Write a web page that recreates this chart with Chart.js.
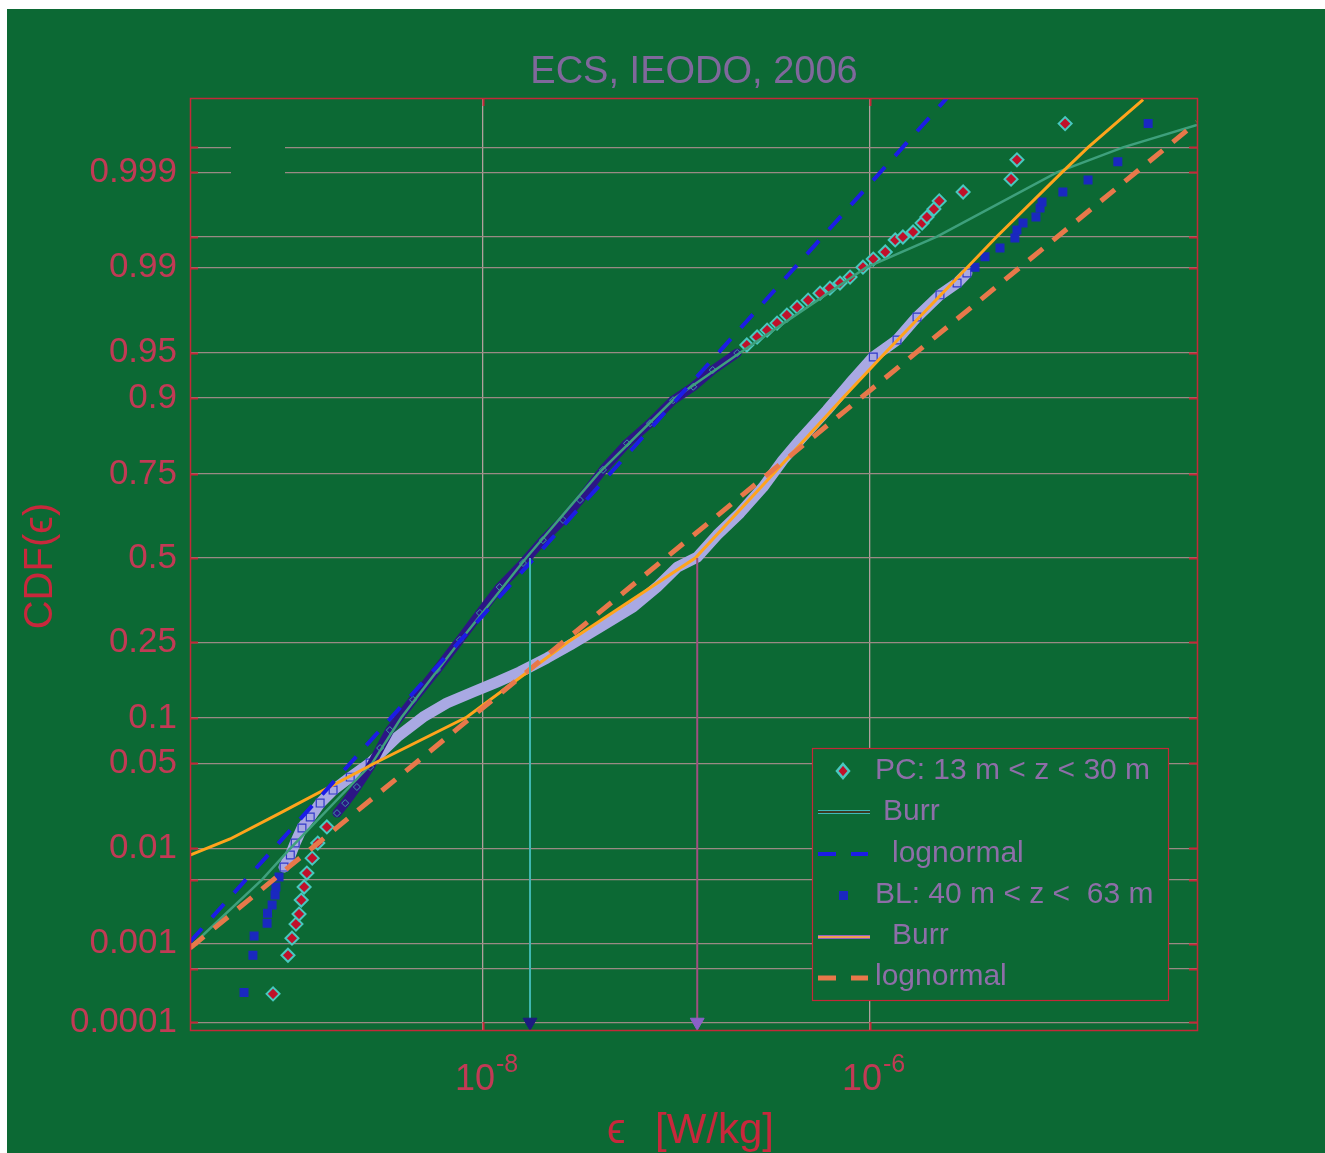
<!DOCTYPE html>
<html><head><meta charset="utf-8">
<script src="https://cdn.jsdelivr.net/npm/chart.js@4.4.1/dist/chart.umd.min.js"></script>
<style>html,body{margin:0;padding:0;background:#fff;}canvas{display:block;}</style>
</head><body>
<canvas id="c" width="1325" height="1153"></canvas>
<script>
// ---------------- data ----------------
const pcEps = [8.22e-10, 9.82e-10, 1.03e-9, 1.08e-9, 1.12e-9, 1.15e-9, 1.19e-9, 1.23e-9, 1.31e-9, 1.40e-9,
  1.56e-9, 1.76e-9, 1.94e-9, 2.23e-9, 2.61e-9, 2.94e-9, 3.30e-9, 4.35e-9, 5.78e-9, 7.60e-9,
  9.64e-9, 1.22e-8, 1.61e-8, 2.04e-8, 2.59e-8, 3.17e-8, 4.17e-8, 5.55e-8, 7.30e-8, 9.60e-8,
  1.22e-7, 1.54e-7, 2.06e-7, 2.31e-7, 2.61e-7, 2.94e-7, 3.31e-7, 3.72e-7, 4.20e-7, 4.79e-7,
  5.52e-7, 6.21e-7, 7.00e-7, 7.89e-7, 9.20e-7, 1.04e-6, 1.20e-6, 1.35e-6, 1.48e-6, 1.67e-6,
  1.86e-6, 1.97e-6, 2.14e-6, 2.28e-6, 3.03e-6, 5.36e-6, 5.75e-6, 1.02e-5];
const pcCdf = [0.00024, 0.00073, 0.00116, 0.00168, 0.00217, 0.00307, 0.0042, 0.0058, 0.0081, 0.0112,
  0.0156, 0.0205, 0.0248, 0.0333, 0.047, 0.064, 0.084, 0.128, 0.185, 0.256,
  0.330, 0.408, 0.484, 0.557, 0.620, 0.679, 0.760, 0.821, 0.860, 0.897,
  0.915, 0.934, 0.9498, 0.9561, 0.9617, 0.9661, 0.9701, 0.9742, 0.9778, 0.9806,
  0.9831, 0.9847, 0.9862, 0.9878, 0.9901, 0.9917, 0.9929, 0.99459, 0.99495, 0.9955,
  0.99636, 0.99685, 0.99741, 0.99789, 0.99832, 0.9988, 0.99929, 0.99975];

const blEps = [5.82e-10, 6.47e-10, 6.56e-10, 7.66e-10, 7.70e-10, 8.13e-10, 8.42e-10, 8.51e-10, 8.83e-10, 9.37e-10,
  1.01e-9, 1.07e-9, 1.16e-9, 1.28e-9, 1.44e-9, 1.68e-9, 2.06e-9, 2.61e-9, 3.60e-9, 4.90e-9,
  6.51e-9, 8.88e-9, 1.18e-8, 1.55e-8, 2.14e-8, 2.82e-8, 4.03e-8, 5.96e-8, 7.93e-8, 1.01e-7,
  1.28e-7, 1.62e-7, 2.13e-7, 2.80e-7, 3.55e-7, 4.35e-7, 6.00e-7, 7.89e-7, 1.04e-6, 1.38e-6,
  1.75e-6, 2.30e-6, 2.82e-6, 3.17e-6, 3.49e-6, 3.93e-6, 4.70e-6, 5.61e-6, 5.75e-6, 6.18e-6,
  7.21e-6, 7.57e-6, 7.75e-6, 9.93e-6, 1.34e-5, 1.91e-5, 2.74e-5];
const blCdf = [0.00025, 0.00073, 0.00123, 0.00172, 0.00222, 0.00272, 0.00347, 0.0042, 0.0053, 0.00664,
  0.00866, 0.0112, 0.0153, 0.019, 0.0248, 0.0315, 0.0396, 0.0502, 0.0758, 0.1013,
  0.1227, 0.1415, 0.1602, 0.1806, 0.2115, 0.2429, 0.290, 0.347, 0.408, 0.471,
  0.503, 0.573, 0.641, 0.715, 0.784, 0.828, 0.882, 0.9196, 0.9464, 0.9597,
  0.9733, 0.9825, 0.9862, 0.9888, 0.9901, 0.9921, 0.9935, 0.99483, 0.99571, 0.99636,
  0.99685, 0.99748, 0.99783, 0.99832, 0.99877, 0.99925, 0.99975];

const pcBurrEps = [3.06e-10, 7.21e-10, 1.01e-9, 2.67e-9, 3.77e-9, 7.52e-9, 1.67e-8, 3.93e-8, 9.82e-8, 2.13e-7, 9.53e-7, 2.22e-6, 9.25e-6, 2.03e-5, 4.90e-5];
const pcBurrCdf = [0.00091, 0.005, 0.01, 0.05, 0.1, 0.25, 0.5, 0.75, 0.9, 0.95, 0.99, 0.995, 0.999, 0.9995, 0.99974];
const pcLognEps = [3.06e-10, 2.50e-6];
const pcLognCdf = [0.00105, 0.999886];

const blBurrEps = [3.06e-10, 4.93e-10, 8.93e-10, 2.83e-9, 8.26e-9, 2.75e-8, 1.25e-7, 3.16e-7, 7.24e-7, 1.20e-6, 3.17e-6, 4.53e-6, 9.82e-6, 1.34e-5, 2.58e-5];
const blBurrCdf = [0.00866, 0.0122, 0.0205, 0.0511, 0.1013, 0.2505, 0.5, 0.7495, 0.9, 0.95, 0.99, 0.995, 0.999, 0.9995, 0.99988];
const blLognEps = [3.06e-10, 4.90e-5];
const blLognCdf = [0.00089, 0.99976];

const medianEps = [1.75e-8, 1.28e-7];   // PC, BL
const arrowCdf = [0.5, 0.0001];

const yTicks = [0.0001, 0.0005, 0.001, 0.005, 0.01, 0.05, 0.1, 0.25, 0.5, 0.75, 0.9, 0.95, 0.99, 0.995, 0.999, 0.9995];
const yTickLabels = ['0.0001', '', '0.001', '', '0.01', '0.05', '0.1', '0.25', '0.5', '0.75', '0.9', '0.95', '0.99', '', '0.999', ''];
const xTicks = [1e-8, 1e-6];
const xTickBases = ['10', '10'];
const xTickExps = ['-8', '-6'];
const yRange = [7.8e-5, 0.999886];
const xRange = [3.06e-10, 4.90e-5];

// ---------------- probability (probit) scale ----------------
function probit(p) {
  const a=[-3.969683028665376e+01,2.209460984245205e+02,-2.759285104469687e+02,1.383577518672690e+02,-3.066479806614716e+01,2.506628277459239e+00];
  const b=[-5.447609879822406e+01,1.615858368580409e+02,-1.556989798598866e+02,6.680131188771972e+01,-1.328068155288572e+01];
  const c=[-7.784894002430293e-03,-3.223964580411365e-01,-2.400758277161838e+00,-2.549732539343734e+00,4.374664141464968e+00,2.938163982698783e+00];
  const d=[7.784695709041462e-03,3.224671290700398e-01,2.445134137142996e+00,3.754408661907416e+00];
  const pl=0.02425, ph=1-pl; let q, r;
  if (p <= 0) return -40; if (p >= 1) return 40;
  if (p < pl) { q=Math.sqrt(-2*Math.log(p)); return (((((c[0]*q+c[1])*q+c[2])*q+c[3])*q+c[4])*q+c[5])/((((d[0]*q+d[1])*q+d[2])*q+d[3])*q+1); }
  if (p <= ph) { q=p-0.5; r=q*q; return (((((a[0]*r+a[1])*r+a[2])*r+a[3])*r+a[4])*r+a[5])*q/(((((b[0]*r+b[1])*r+b[2])*r+b[3])*r+b[4])*r+1); }
  q=Math.sqrt(-2*Math.log(1-p)); return -(((((c[0]*q+c[1])*q+c[2])*q+c[3])*q+c[4])*q+c[5])/((((d[0]*q+d[1])*q+d[2])*q+d[3])*q+1);
}
class ProbitScale extends Chart.LinearScale {
  determineDataLimits() { this.min = probit(this.options.min); this.max = probit(this.options.max); }
  buildTicks() { return yTicks.map(v => ({value: v})); }
  getBaseValue() { return this.options.min; }
  getPixelForValue(v) {
    if (v === null || v === undefined || isNaN(v)) return NaN;
    return this.getPixelForDecimal((probit(v) - this._startValue) / this._valueRange);
  }
}
ProbitScale.id = 'probit';
Chart.register(ProbitScale);

const pts = (xs, ys) => xs.map((x, i) => ({x: x, y: ys[i]}));
const FONT = "'Liberation Sans', Arial, sans-serif";
const GREEN = '#0c6934', RED = '#c42838';

const pcTail = p => p < 0.016 || p > 0.955;
const blTail = p => p < 0.006 || p > 0.99;
const blEdge = p => p < 0.07 || p > 0.93;

const bgPlugin = {
  id: 'bg',
  beforeDraw(chart) {
    const ctx = chart.ctx; ctx.save();
    ctx.fillStyle = '#ffffff'; ctx.fillRect(0, 0, chart.width, chart.height);
    ctx.fillStyle = GREEN; ctx.fillRect(7, 9, chart.width - 7, chart.height - 9);
    ctx.restore();
  },
  beforeDatasetsDraw(chart) {
    const ctx = chart.ctx, a = chart.chartArea, xs = chart.scales.x, ys = chart.scales.y;
    ctx.save();
    ctx.fillStyle = GREEN; ctx.fillRect(231, 140, 54, 40);
    ctx.strokeStyle = RED; ctx.lineWidth = 2;
    ctx.beginPath();
    yTicks.forEach(v => { const py = Math.round(ys.getPixelForValue(v)) + 0.5;
      ctx.moveTo(a.left, py); ctx.lineTo(a.left + 8, py);
      ctx.moveTo(a.right - 8, py); ctx.lineTo(a.right, py); });
    xTicks.forEach(v => { const px = Math.round(xs.getPixelForValue(v)) + 0.5;
      ctx.moveTo(px, a.top); ctx.lineTo(px, a.top + 8);
      ctx.moveTo(px, a.bottom - 8); ctx.lineTo(px, a.bottom); });
    ctx.stroke();
    ctx.restore();
  },
  afterDraw(chart) {
    const ctx = chart.ctx, a = chart.chartArea, xs = chart.scales.x;
    ctx.save();
    ctx.strokeStyle = RED; ctx.lineWidth = 1.5;
    ctx.strokeRect(a.left + 0.5, a.top + 0.5, a.right - a.left, a.bottom - a.top);
    // x tick labels (10 with superscript exponent) at the x scale's tick positions
    ctx.fillStyle = '#c23a55'; ctx.textBaseline = 'alphabetic'; ctx.textAlign = 'left';
    xTicks.forEach((v, i) => {
      const px = xs.getPixelForValue(v);
      ctx.font = '36px ' + FONT; ctx.fillText(xTickBases[i], px - 28, 1090);
      const w = ctx.measureText(xTickBases[i]).width;
      ctx.font = '25px ' + FONT; ctx.fillText(xTickExps[i], px - 28 + w + 1, 1072);
    });
    // title
    ctx.fillStyle = '#80689c'; ctx.font = '38px ' + FONT; ctx.textAlign = 'center';
    ctx.fillText('ECS, IEODO, 2006', 694, 83);
    // axis titles
    ctx.fillStyle = '#c8283c';
    ctx.font = '42px ' + FONT; ctx.textAlign = 'left';
    ctx.fillText('\u03F5', 607, 1143);
    ctx.fillText('[W/kg]', 655, 1143);
    ctx.save(); ctx.translate(52, 566); ctx.rotate(-Math.PI / 2);
    ctx.textAlign = 'center'; ctx.font = '40px ' + FONT; ctx.fillText('CDF(\u03F5)', 0, 0);
    ctx.restore();
    // legend
    ctx.fillStyle = GREEN; ctx.fillRect(812, 748, 356, 252);
    ctx.strokeStyle = RED; ctx.lineWidth = 1.2; ctx.strokeRect(812.5, 748.5, 356, 252);
    ctx.font = '30px ' + FONT; ctx.fillStyle = '#8e6ea8'; ctx.textBaseline = 'middle'; ctx.textAlign = 'left';
    const rows = [
      ['PC: 13 m < z < 30 m', 875, 771], ['Burr', 883, 812], ['lognormal', 892, 854],
      ['BL: 40 m < z <  63 m', 875, 895], ['Burr', 892, 936], ['lognormal', 875, 977]];
    rows.forEach(r => ctx.fillText(r[0], r[1], r[2]));
    ctx.fillStyle = '#c0102a'; ctx.strokeStyle = '#48c8c0'; ctx.lineWidth = 2.5;
    ctx.beginPath(); ctx.moveTo(843, 764); ctx.lineTo(849, 771); ctx.lineTo(843, 778); ctx.lineTo(837, 771); ctx.closePath(); ctx.fill(); ctx.stroke();
    ctx.lineCap = 'butt';
    ctx.strokeStyle = '#40b8b8'; ctx.lineWidth = 4; ctx.beginPath(); ctx.moveTo(818, 812); ctx.lineTo(870, 812); ctx.stroke();
    ctx.strokeStyle = '#3b3b22'; ctx.lineWidth = 2; ctx.beginPath(); ctx.moveTo(818, 812); ctx.lineTo(870, 812); ctx.stroke();
    ctx.strokeStyle = '#1c1ce6'; ctx.lineWidth = 4; ctx.beginPath(); ctx.moveTo(818, 854); ctx.lineTo(836, 854); ctx.moveTo(851, 854); ctx.lineTo(868, 854); ctx.stroke();
    ctx.fillStyle = '#1a28c0'; ctx.fillRect(839, 891, 9, 9);
    ctx.strokeStyle = '#9060c0'; ctx.lineWidth = 4; ctx.beginPath(); ctx.moveTo(818, 937); ctx.lineTo(870, 937); ctx.stroke();
    ctx.strokeStyle = '#f0a050'; ctx.lineWidth = 2; ctx.beginPath(); ctx.moveTo(818, 937); ctx.lineTo(870, 937); ctx.stroke();
    ctx.strokeStyle = '#e8784a'; ctx.lineWidth = 5; ctx.beginPath(); ctx.moveTo(818, 978); ctx.lineTo(836, 978); ctx.moveTo(851, 978); ctx.lineTo(868, 978); ctx.stroke();
    ctx.restore();
  }
};

const arrowDs = (i, lineColor, headColor) => ({
  data: pts([medianEps[i], medianEps[i]], arrowCdf), showLine: true,
  borderColor: lineColor, borderWidth: 2,
  pointRadius: [0, 8], pointStyle: 'triangle', rotation: 180,
  pointBackgroundColor: headColor, pointBorderColor: headColor, pointBorderWidth: 1, order: 0
});

new Chart(document.getElementById('c'), {
  type: 'scatter',
  data: { datasets: [
    arrowDs(0, '#40b8b0', '#1c1c80'),
    arrowDs(1, '#a05080', '#8a60c8'),
    { data: pts(pcLognEps, pcLognCdf), showLine: true, borderColor: '#1c1ce6', borderWidth: 4, borderDash: [18, 15], pointRadius: 0, order: 1 },
    { data: pts(blLognEps, blLognCdf), showLine: true, borderColor: '#e8784a', borderWidth: 5, borderDash: [18, 13], pointRadius: 0, order: 1 },
    { data: pts(blBurrEps, blBurrCdf), showLine: true, borderColor: '#ffa41c', borderWidth: 3, pointRadius: 0, order: 2 },
    { data: pts(pcBurrEps, pcBurrCdf), showLine: true, borderColor: '#3ea07c', borderWidth: 2.5, pointRadius: 0, order: 2 },
    { data: pts(blEps, blCdf), showLine: true, borderWidth: 11, borderJoinStyle: 'round', borderCapStyle: 'round',
      borderColor: '#a9a9e3',
      segment: { borderColor: ctx => (blTail(ctx.p0.parsed.y) || blTail(ctx.p1.parsed.y)) ? 'rgba(0,0,0,0)' : '#a9a9e3' },
      pointStyle: 'rect',
      pointRadius: ctx => blEdge(ctx.raw.y) ? 5.5 : 0,
      pointBackgroundColor: ctx => blTail(ctx.raw.y) ? '#1a28c0' : '#a9a9e3',
      pointBorderColor: ctx => blTail(ctx.raw.y) ? '#1a28c0' : '#3038c8', pointBorderWidth: 1.2, order: 6 },
    { data: pts(pcEps, pcCdf), showLine: true, borderWidth: 9, borderJoinStyle: 'round', borderCapStyle: 'round',
      borderColor: '#2c1585',
      segment: { borderColor: ctx => (pcTail(ctx.p0.parsed.y) || pcTail(ctx.p1.parsed.y)) ? 'rgba(0,0,0,0)' : '#2c1585' },
      pointStyle: 'rectRot',
      pointRadius: ctx => pcTail(ctx.raw.y) ? 6.5 : 3.5,
      pointBackgroundColor: ctx => pcTail(ctx.raw.y) ? '#c0102a' : '#2c1585',
      pointBorderColor: ctx => pcTail(ctx.raw.y) ? '#48c8c0' : '#3aa0a0',
      pointBorderWidth: ctx => pcTail(ctx.raw.y) ? 2 : 1, order: 5 }
  ]},
  options: {
    responsive: false, animation: false, devicePixelRatio: 1, events: [],
    layout: { padding: { top: 98, right: 128, bottom: 0, left: 0 } },
    plugins: { legend: { display: false }, tooltip: { enabled: false }, title: { display: false } },
    scales: {
      x: { type: 'logarithmic', position: 'bottom', min: xRange[0], max: xRange[1], bounds: 'data',
        grid: { color: '#b0a09c', lineWidth: 1.3, drawTicks: false }, border: { display: false },
        afterBuildTicks: s => { s.ticks = xTicks.map(v => ({value: v})); },
        ticks: { display: false },
        afterFit: s => { s.height = 123; } },
      y: { type: 'probit', position: 'left', min: yRange[0], max: yRange[1],
        grid: { color: '#9a8a84', lineWidth: 1.3, drawTicks: false }, border: { display: false },
        ticks: { autoSkip: false, padding: 13, color: '#c23a55', font: { family: FONT, size: 35 },
          callback: (v, i) => yTickLabels[i] },
        afterFit: s => { s.width = 190; } }
    }
  },
  plugins: [bgPlugin]
});
</script>
</body></html>
